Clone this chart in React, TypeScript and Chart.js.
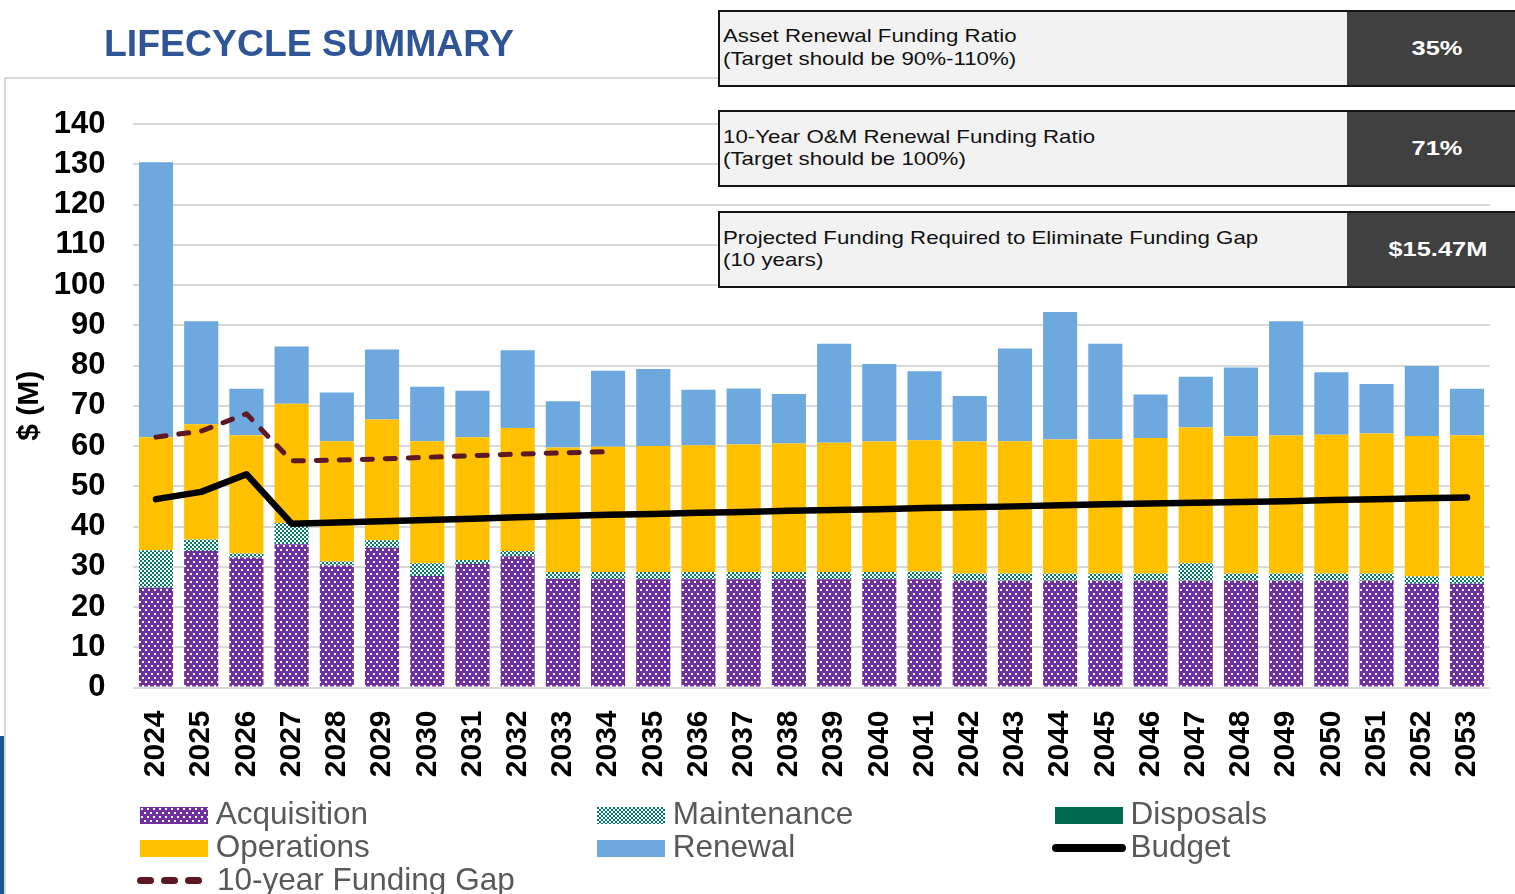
import React, { useEffect, useRef } from "react";
import { Chart, registerables } from "chart.js";

Chart.register(...registerables);

const FONT = "'Liberation Sans', Arial, Helvetica, sans-serif";

const years = [
  "2024", "2025", "2026", "2027", "2028", "2029", "2030", "2031", "2032", "2033",
  "2034", "2035", "2036", "2037", "2038", "2039", "2040", "2041", "2042", "2043",
  "2044", "2045", "2046", "2047", "2048", "2049", "2050", "2051", "2052", "2053",
];

const acquisition = [
  24.8, 33.9, 32.3, 35.6, 30.3, 34.7, 27.7, 30.7, 32.6, 27.0,
  26.9, 26.9, 26.9, 26.9, 26.9, 26.9, 26.9, 26.9, 26.5, 26.5,
  26.5, 26.5, 26.5, 26.5, 26.5, 26.5, 26.5, 26.5, 25.8, 25.8,
];
const maintenance = [
  9.3, 2.9, 1.0, 5.3, 1.0, 1.9, 3.2, 1.0, 1.3, 1.7,
  1.8, 1.8, 1.8, 1.8, 1.8, 1.8, 1.8, 1.9, 1.8, 1.8,
  1.8, 1.8, 1.8, 4.4, 1.8, 1.8, 1.8, 1.8, 1.8, 1.8,
];
const disposals = [
  0, 0, 0, 0, 0, 0, 0, 0, 0, 0,
  0, 0, 0, 0, 0, 0, 0, 0, 0, 0,
  0, 0, 0, 0, 0, 0, 0, 0, 0, 0,
];
const operations = [
  28.1, 28.6, 29.4, 29.6, 29.9, 30.0, 30.3, 30.5, 30.6, 30.9,
  31.1, 31.3, 31.5, 31.7, 31.9, 32.1, 32.4, 32.6, 32.8, 32.9,
  33.3, 33.4, 33.7, 33.7, 34.1, 34.3, 34.5, 34.8, 34.9, 35.1,
];
const renewal = [
  68.3, 25.6, 11.5, 14.2, 12.1, 17.4, 13.5, 11.5, 19.3, 11.5,
  18.9, 19.1, 13.8, 13.9, 12.3, 24.6, 19.3, 17.2, 11.3, 23.0,
  31.7, 23.7, 10.8, 12.6, 17.1, 28.4, 15.5, 12.3, 17.4, 11.5,
];
const budget = [
  46.8, 48.6, 53.0, 40.7, 41.0, 41.3, 41.6, 41.9, 42.3, 42.6,
  42.9, 43.1, 43.4, 43.6, 43.9, 44.1, 44.3, 44.6, 44.8, 45.0,
  45.3, 45.5, 45.7, 45.9, 46.1, 46.3, 46.6, 46.8, 47.0, 47.2,
];
const fundingGap = [
  62.2, 63.7, 68.0, 56.3, 56.5, 56.8, 57.2, 57.6, 58.0, 58.3,
  58.6, null, null, null, null, null, null, null, null, null,
  null, null, null, null, null, null, null, null, null, null,
];

const yTicksMax = 140;
const yTickStep = 10;

const summaryRows = [
  { line1: "Asset Renewal Funding Ratio", line2: "(Target should be 90%-110%)", value: "35%" },
  { line1: "10-Year O&M Renewal Funding Ratio", line2: "(Target should be 100%)", value: "71%" },
  { line1: "Projected Funding Required to Eliminate Funding Gap", line2: "(10 years)", value: "$15.47M" },
];

const PURPLE = "#7030A0";
const TEAL = "#007A68";
const GOLD = "#FFC000";
const BLUE = "#6DA9DF";
const DISPOSAL = "#00694F";
const GAP = "#5C1824";

function makeDots(): CanvasPattern | string {
  const c = document.createElement("canvas");
  c.width = 6;
  c.height = 8;
  const g = c.getContext("2d");
  if (!g) return PURPLE;
  g.fillStyle = PURPLE;
  g.fillRect(0, 0, 6, 8);
  g.fillStyle = "#ffffff";
  g.fillRect(1, 1, 2, 2);
  g.fillRect(4, 5, 2, 2);
  return g.createPattern(c, "repeat") || PURPLE;
}

function makeChecker(): CanvasPattern | string {
  const c = document.createElement("canvas");
  c.width = 4;
  c.height = 4;
  const g = c.getContext("2d");
  if (!g) return TEAL;
  g.fillStyle = "#ffffff";
  g.fillRect(0, 0, 4, 4);
  g.fillStyle = TEAL;
  g.fillRect(0, 0, 2, 2);
  g.fillRect(2, 2, 2, 2);
  return g.createPattern(c, "repeat") || TEAL;
}

function PatternSwatch({ kind, left, top }: { kind: "dots" | "checker"; left: number; top: number }) {
  const ref = useRef<HTMLCanvasElement | null>(null);
  useEffect(() => {
    const c = ref.current;
    if (!c) return;
    const g = c.getContext("2d");
    if (!g) return;
    g.fillStyle = kind === "dots" ? makeDots() : makeChecker();
    g.fillRect(0, 0, c.width, c.height);
  }, [kind]);
  return (
    <canvas
      ref={ref}
      width={68}
      height={17}
      style={{ position: "absolute", left, top, width: 68, height: 17 }}
    />
  );
}

function LegendText({ left, top, text }: { left: number; top: number; text: string }) {
  return (
    <div
      style={{
        position: "absolute",
        left,
        top,
        fontFamily: FONT,
        fontSize: 31.5,
        lineHeight: "31px",
        color: "#595959",
        whiteSpace: "nowrap",
      }}
    >
      {text}
    </div>
  );
}

function SummaryBox({ top, line1, line2, value }: { top: number; line1: string; line2: string; value: string }) {
  return (
    <div
      style={{
        position: "absolute",
        left: 718,
        top,
        width: 812,
        height: 77,
        border: "2.5px solid #151515",
        boxSizing: "border-box",
        background: "#f2f2f2",
      }}
    >
      <div
        style={{
          position: "absolute",
          left: 3,
          top: 13.5,
          fontFamily: FONT,
          fontSize: 17.7,
          lineHeight: "22.5px",
          color: "#111",
          whiteSpace: "nowrap",
          transform: "scaleX(1.26)",
          transformOrigin: "left top",
        }}
      >
        <div>{line1}</div>
        <div>{line2}</div>
      </div>
      <div
        style={{
          position: "absolute",
          left: 627,
          top: 0,
          bottom: 0,
          right: 0,
          background: "#404040",
          display: "flex",
          alignItems: "center",
          justifyContent: "center",
        }}
      >
        <span
          style={{
            fontFamily: FONT,
            fontWeight: "bold",
            fontSize: 20,
            color: "#ffffff",
            display: "inline-block",
            transform: "scaleX(1.27)",
            whiteSpace: "nowrap",
          }}
        >
          {value}
        </span>
      </div>
    </div>
  );
}

export default function App() {
  const canvasRef = useRef<HTMLCanvasElement | null>(null);

  useEffect(() => {
    const canvas = canvasRef.current;
    if (!canvas) return;
    const dots = makeDots();
    const checker = makeChecker();
    const chart = new Chart(canvas, {
      type: "bar",
      data: {
        labels: years,
        datasets: [
          {
            type: "line",
            label: "10-year Funding Gap",
            data: fundingGap,
            borderColor: GAP,
            borderWidth: 5,
            borderDash: [10, 13],
            borderCapStyle: "round",
            borderJoinStyle: "round",
            pointRadius: 0,
            tension: 0,
            fill: false,
            stack: "gap",
            order: 0,
          } as any,
          {
            type: "line",
            label: "Budget",
            data: budget,
            borderColor: "#000000",
            borderWidth: 6.5,
            borderCapStyle: "round",
            borderJoinStyle: "round",
            pointRadius: 0,
            tension: 0,
            fill: false,
            stack: "budget",
            order: 0,
          } as any,
          { label: "Acquisition", data: acquisition, backgroundColor: dots, stack: "costs", order: 1 } as any,
          { label: "Maintenance", data: maintenance, backgroundColor: checker, stack: "costs", order: 1 } as any,
          { label: "Disposals", data: disposals, backgroundColor: DISPOSAL, stack: "costs", order: 1 } as any,
          { label: "Operations", data: operations, backgroundColor: GOLD, stack: "costs", order: 1 } as any,
          { label: "Renewal", data: renewal, backgroundColor: BLUE, stack: "costs", order: 1 } as any,
        ],
      },
      options: {
        responsive: false,
        animation: false,
        devicePixelRatio: 1,
        layout: { padding: { top: 124, right: 25.4, bottom: 0, left: 0 } },
        datasets: { bar: { categoryPercentage: 1, barPercentage: 0.755 } } as any,
        plugins: {
          legend: { display: false },
          tooltip: { enabled: false },
          title: { display: false },
        },
        scales: {
          x: {
            stacked: true,
            grid: { display: false },
            border: { display: false },
            ticks: {
              autoSkip: false,
              minRotation: 90,
              maxRotation: 90,
              padding: 15,
              color: "#000000",
              font: { family: FONT, size: 30, weight: "bold" },
            },
            afterFit: (s: any) => {
              s.height = 112.5;
              s.paddingLeft = 0;
              s.paddingRight = 0;
            },
          },
          y: {
            stacked: true,
            min: 0,
            max: yTicksMax,
            ticks: {
              stepSize: yTickStep,
              padding: 28,
              color: "#000000",
              font: { family: FONT, size: 31, weight: "bold" },
            },
            grid: { color: "#d9d9d9", lineWidth: 2, drawTicks: false },
            border: { display: false },
            title: {
              display: true,
              text: "$ (M)",
              color: "#000000",
              font: { family: FONT, size: 30, weight: "bold" },
              padding: { top: 12, bottom: 0 },
            },
            afterFit: (s: any) => {
              s.width = 133.4;
            },
          },
        },
      } as any,
    });
    return () => chart.destroy();
  }, []);

  return (
    <div
      style={{
        position: "absolute",
        left: 0,
        top: 0,
        width: 1515,
        height: 894,
        overflow: "hidden",
        background: "#ffffff",
        fontFamily: FONT,
      }}
    >
      <div
        style={{
          position: "absolute",
          left: 4,
          top: 76.5,
          width: 720,
          height: 830,
          borderTop: "2px solid #d9d9d9",
          borderLeft: "2px solid #d9d9d9",
        }}
      />
      <div style={{ position: "absolute", left: 0, top: 736, width: 4, height: 158, background: "#17598F" }} />
      <canvas
        ref={canvasRef}
        width={1515}
        height={800}
        style={{ position: "absolute", left: 0, top: 0, width: 1515, height: 800 }}
      />
      <div
        style={{
          position: "absolute",
          left: 104,
          top: 25.3,
          fontFamily: FONT,
          fontWeight: "bold",
          fontSize: 37.4,
          lineHeight: "37px",
          color: "#2F5597",
          whiteSpace: "nowrap",
        }}
      >
        LIFECYCLE SUMMARY
      </div>
      {summaryRows.map((r, i) => (
        <SummaryBox key={i} top={[9.5, 110, 211][i]} line1={r.line1} line2={r.line2} value={r.value} />
      ))}

      {/* Legend */}
      <PatternSwatch kind="dots" left={140} top={807} />
      <LegendText left={215.7} top={798} text="Acquisition" />
      <PatternSwatch kind="checker" left={597} top={807} />
      <LegendText left={672.8} top={798} text="Maintenance" />
      <div style={{ position: "absolute", left: 1055, top: 807, width: 68, height: 17, background: DISPOSAL }} />
      <LegendText left={1130.5} top={798} text="Disposals" />

      <div style={{ position: "absolute", left: 140, top: 839.5, width: 68, height: 17, background: GOLD }} />
      <LegendText left={215.7} top={831} text="Operations" />
      <div style={{ position: "absolute", left: 597, top: 839.5, width: 68, height: 17, background: BLUE }} />
      <LegendText left={672.8} top={831} text="Renewal" />
      <div
        style={{ position: "absolute", left: 1052, top: 844, width: 74, height: 7.5, borderRadius: 4, background: "#000" }}
      />
      <LegendText left={1130.5} top={831} text="Budget" />

      {[137, 161, 185].map((x) => (
        <div
          key={x}
          style={{ position: "absolute", left: x, top: 877, width: 17, height: 6.5, borderRadius: 3.5, background: GAP }}
        />
      ))}
      <LegendText left={217} top={864} text="10-year Funding Gap" />
    </div>
  );
}
